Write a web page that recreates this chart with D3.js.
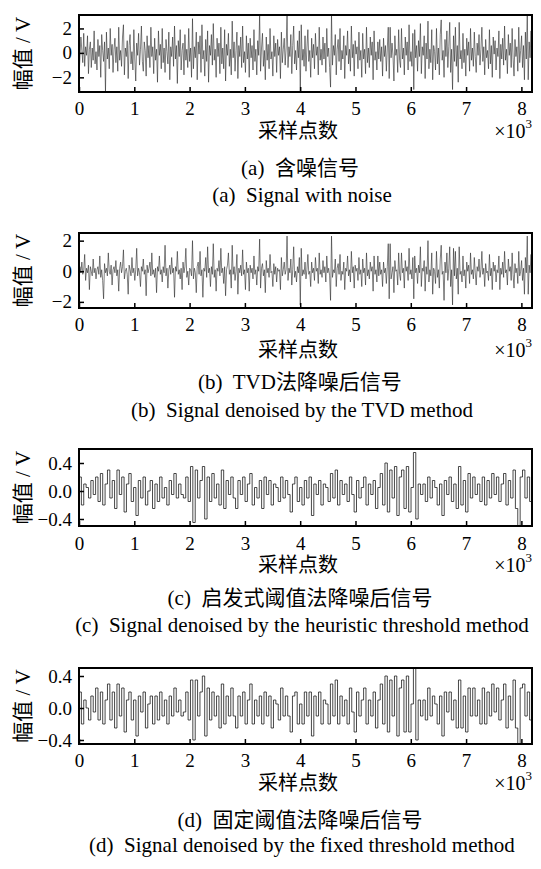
<!DOCTYPE html>
<html><head><meta charset="utf-8">
<script src="https://cdn.jsdelivr.net/npm/d3@7"></script>
<style>body{margin:0;background:#fff}</style></head>
<body><svg id="c" width="541" height="869"></svg>
<script>
const xTicks = [0,1000,2000,3000,4000,5000,6000,7000,8000];
const xMax = 8192;
const sigA = [
-1.9,-0.4,1.3,0.2,-0.8,1.6,-1.1,0.5,-0.2,1.4,-1.7,0.3,0.9,-1.2,0.4,-0.6,1.8,-0.9,0.1,-1.4,
1.1,-0.3,0.6,-2.0,1.5,0.2,-0.7,0.9,-3.2,1.7,-0.5,0.4,-1.3,2.0,-0.2,0.7,-1.6,0.3,1.2,-0.8,
0.5,-1.5,2.1,-0.6,0.2,-1.1,1.3,2.3,-1.8,0.4,-0.3,1.0,-2.1,0.6,1.5,-0.9,0.1,-1.4,1.9,-0.5,
-2.3,0.8,-0.2,1.6,-1.0,0.3,2.2,-0.7,-1.5,0.9,0.2,-1.9,1.4,-0.4,0.6,-1.2,2.1,-0.3,0.5,-1.7,
1.2,-0.6,0.3,-2.4,1.8,-0.2,0.7,-1.3,2.0,-0.8,0.4,-1.6,1.1,0.1,-0.9,1.7,-2.2,0.5,-0.3,1.3,
-1.1,2.2,-0.5,0.6,-2.5,1.0,-0.3,1.9,-1.4,0.2,0.8,-1.8,1.5,-0.6,0.3,-1.2,2.0,-0.7,0.4,-2.0,
2.8,-1.3,0.5,-0.4,1.7,-2.2,0.9,-0.1,1.4,-1.6,2.3,-0.5,0.2,-1.9,1.1,-0.7,1.8,-2.4,0.6,-0.2,
1.5,-1.0,2.4,-0.6,0.3,-2.0,1.2,-0.3,0.8,-1.7,2.1,-0.9,0.4,-1.3,1.9,-2.3,0.7,-0.2,1.6,-1.1,
0.3,-1.8,2.6,-0.4,0.9,-1.5,0.2,1.7,-2.1,0.6,-0.3,1.3,-1.2,2.2,-0.8,0.1,-1.6,1.4,-0.5,0.8,
-2.0,1.2,-0.4,0.6,-1.4,1.9,-0.7,0.3,-1.8,1.0,-0.2,3.1,-1.5,0.4,1.6,-1.1,0.2,-2.2,1.3,-0.6,
0.7,-1.3,2.0,-0.5,0.1,-1.9,1.4,-0.3,0.8,-1.6,1.1,-0.2,0.5,-2.1,1.7,-0.8,0.3,1.2,-1.0,0.4,
3.2,-1.2,0.5,-0.3,1.5,-1.7,0.6,2.2,-0.9,0.2,-1.4,1.0,-0.4,1.8,-3.3,2.3,-0.6,0.3,-1.1,1.4,
-1.5,0.4,1.9,-0.7,0.2,-2.0,1.2,-0.4,0.7,-1.3,1.6,-0.2,0.5,-1.8,2.1,-0.6,0.3,-1.0,1.3,-0.5,
0.8,-1.6,2.0,-0.3,0.4,-1.2,-2.8,3.2,-1.0,0.6,-0.2,1.5,-1.8,0.3,1.1,-0.7,2.0,-1.4,0.2,-0.5,
1.4,-2.1,0.6,-0.2,1.8,-0.9,0.3,-1.5,2.2,-0.4,0.7,-1.9,1.0,-0.1,0.5,-1.3,1.7,-0.6,0.2,-2.0,
1.6,-0.5,0.3,-1.7,2.1,-0.8,0.4,-1.2,1.3,-0.2,0.9,-2.2,1.8,-0.6,0.1,-1.4,0.9,-0.5,1.1,-0.7,
0.5,-1.9,1.2,-0.3,0.6,-1.5,0.4,2.1,-2.1,2.1,-0.4,0.8,-0.2,-2.3,1.4,-0.2,0.3,-1.6,1.9,-0.6,
-1.2,2.0,-0.5,0.4,-1.8,1.3,-0.2,0.9,-1.4,2.3,-0.7,0.1,-1.1,1.6,-3.0,1.9,-0.4,0.6,-1.5,1.0,
-0.3,2.4,-1.7,0.5,-0.2,1.4,-2.1,0.8,-0.5,2.6,-1.3,0.3,-0.8,1.9,-2.2,0.6,0.1,-1.4,2.0,-0.9,
0.4,-1.8,1.5,2.7,-0.6,0.2,-2.0,1.1,-0.3,1.8,-1.2,0.5,2.5,-1.6,0.3,-3.0,1.4,-0.7,2.1,-1.1,
0.6,-2.4,2.5,-0.5,0.2,-1.3,1.6,-0.8,0.3,-1.9,1.2,-0.2,0.9,-1.5,2.0,-0.6,0.4,-1.1,1.7,-0.3,
-1.6,0.8,-0.2,1.5,-1.0,0.3,2.1,-0.7,0.5,-1.8,1.1,-0.4,0.2,-1.3,1.9,-0.9,0.6,-2.0,1.3,-0.1,
1.0,-1.4,0.4,-0.3,1.8,-2.1,0.7,-0.5,1.2,-1.0,2.2,-0.6,0.3,-1.7,1.5,-0.2,0.8,-1.2,2.0,-0.4,
-1.9,1.1,-0.3,0.5,-1.5,2.1,-0.8,0.2,1.4,-1.2,0.6,-2.2,1.7,-0.5,3.2,-2.2,0.9,-0.4,1.8,-1.0
];
const sigB = [
-0.9,0.3,-0.1,0.6,-0.2,0.1,1.1,-0.6,0.2,-0.1,0.4,-1.2,0.3,0.0,-0.3,0.8,-0.1,0.2,-0.5,0.1,
0.3,-0.2,1.0,-0.4,0.1,-0.6,-1.8,0.5,-0.1,0.2,-0.3,1.2,0.0,-0.2,0.4,-0.9,0.1,0.3,-0.1,0.7,
-0.3,0.1,-1.3,0.2,0.6,-0.1,0.3,1.4,-0.5,0.0,0.2,-0.2,-1.5,0.4,0.1,-0.3,0.9,-0.1,0.2,-0.6,
0.1,1.5,-0.3,0.2,-0.1,-1.0,0.3,0.0,0.8,-0.2,0.1,-1.6,0.4,-0.1,0.2,0.6,-0.3,1.2,-0.2,0.1,
-0.4,0.2,-1.4,0.3,0.0,1.0,-0.2,0.1,-0.7,0.3,-0.1,1.7,-0.3,0.2,-1.1,0.1,0.4,-0.2,0.9,-0.1,
0.2,-1.7,0.3,0.0,1.3,-0.2,0.1,-0.5,0.2,-1.2,0.6,-0.1,0.3,1.5,-0.4,0.0,-0.9,0.2,0.1,-0.3,
2.0,-0.5,0.2,-0.1,-1.4,0.3,0.6,-0.2,1.3,-0.3,0.1,-1.7,0.2,0.0,0.9,-0.4,1.6,-0.1,0.2,-1.0,
0.3,-0.2,1.8,-0.4,0.1,-1.3,0.2,0.0,0.7,-0.3,1.5,-0.1,0.2,-0.8,0.3,-1.6,0.1,0.4,1.2,-0.2,
0.1,-1.1,1.7,-0.2,0.3,-0.6,0.0,1.1,-1.5,0.2,-0.1,0.4,-0.3,1.4,-0.2,0.1,-1.2,0.6,-0.1,0.2,
-1.3,0.4,-0.1,0.2,-0.5,1.0,-0.2,0.1,-0.9,0.3,0.0,2.1,-1.1,0.2,0.5,-0.3,0.1,-1.4,0.7,-0.1,
0.2,-0.4,1.1,-0.1,0.0,-1.0,0.5,-0.2,0.3,-0.7,0.2,0.0,0.1,-1.2,0.9,-0.3,0.1,0.6,-0.2,0.1,
2.3,-0.6,0.2,-0.1,0.8,-0.9,0.1,1.6,-0.4,0.0,-0.7,0.3,-0.1,0.9,-2.2,1.5,-0.3,0.1,-0.2,0.6,
-0.5,0.1,1.1,-0.2,0.0,-1.0,0.6,-0.1,0.2,-0.6,0.9,0.0,0.2,-0.8,1.2,-0.2,0.1,-0.4,0.7,-0.1,
0.3,-0.7,1.0,-0.1,0.2,-0.3,-1.9,2.3,-0.4,0.1,-0.1,0.8,-1.0,0.2,0.5,-0.2,1.1,-0.6,0.0,-0.2,
0.6,-1.2,0.2,0.0,1.0,-0.3,0.1,-0.7,1.3,-0.1,0.3,-1.1,0.4,0.0,0.2,-0.6,0.9,-0.2,0.1,-1.0,
0.8,-0.1,0.2,-0.9,1.2,-0.3,0.1,-0.5,0.6,0.0,0.3,-1.3,1.0,-0.2,0.1,-0.7,1.0,-0.3,0.6,-0.2,
0.1,-1.0,0.6,-0.1,0.2,-0.8,0.3,1.8,-1.8,1.8,-0.5,-0.1,0.3,-1.4,0.7,0.0,0.1,-0.9,1.2,-0.2,
-0.6,1.2,-0.1,0.2,-1.1,0.7,0.0,0.3,-0.6,1.5,-0.2,0.1,-0.5,0.9,-1.8,1.0,-0.1,0.2,-0.8,0.4,
-0.1,1.6,-1.0,0.2,0.0,0.7,-1.3,0.3,-0.2,2.0,-0.7,0.1,-0.3,1.2,-1.5,0.2,0.0,-0.8,1.3,-0.4,
0.1,-1.1,0.8,1.7,-0.2,0.0,-1.9,0.6,-0.1,1.2,-0.6,0.2,1.6,-1.0,0.1,-2.2,1.5,-0.3,1.3,-0.5,
0.2,-1.5,1.6,-0.2,0.0,-0.7,1.0,-0.3,0.1,-1.1,0.6,0.0,0.4,-0.8,1.2,-0.2,0.1,-0.5,0.9,-0.1,
-0.9,0.3,0.0,0.8,-0.4,0.1,1.3,-0.2,0.2,-1.0,0.5,-0.1,0.0,-0.6,1.1,-0.3,0.2,-1.2,0.6,0.0,
0.4,-0.7,0.1,-0.1,1.0,-1.2,0.2,-0.2,0.6,-0.4,1.3,-0.1,0.1,-0.9,0.8,0.0,0.3,-0.6,1.2,-0.2,
-1.1,0.5,-0.1,0.2,-0.8,1.3,-0.3,0.0,0.7,-0.6,0.2,-1.5,0.9,-0.1,2.3,-1.5,0.4,-0.1,1.1,-0.5
];
const sigC = [
0.20,-0.20,0.10,0.05,-0.10,0.15,-0.05,0.20,-0.15,0.25,-0.20,0.10,0.30,-0.10,0.15,-0.25,
0.30,-0.05,0.20,-0.30,0.10,0.25,-0.15,0.05,-0.35,0.15,-0.10,0.20,-0.20,0.00,0.15,-0.25,
0.10,-0.15,0.20,-0.10,0.05,-0.20,0.15,-0.05,0.25,-0.10,0.10,-0.05,-0.10,0.20,-0.15,0.35,
-0.45,0.30,-0.10,0.15,0.35,-0.40,0.20,-0.15,0.25,-0.10,0.10,-0.20,0.30,-0.25,0.15,-0.05,
0.20,-0.10,-0.25,0.15,-0.05,0.20,-0.15,0.10,0.25,-0.20,0.05,-0.10,0.15,-0.25,0.20,-0.05,
0.15,-0.20,0.10,0.05,-0.15,0.20,-0.10,0.15,-0.05,-0.30,0.10,0.20,-0.15,0.05,-0.20,0.15,
-0.10,0.20,-0.35,0.10,-0.05,0.15,-0.20,0.10,0.05,-0.15,0.25,-0.10,0.30,-0.20,0.15,-0.05,
0.10,-0.15,0.20,-0.05,-0.30,0.15,-0.10,0.05,0.20,-0.20,0.10,-0.05,0.15,-0.25,0.05,0.25,
-0.20,0.40,-0.30,0.30,-0.10,0.35,-0.35,0.20,0.30,-0.25,0.35,-0.30,0.05,0.55,-0.40,0.10,
-0.05,0.10,-0.15,0.20,-0.10,0.15,0.05,-0.20,0.10,-0.35,0.15,-0.05,0.20,-0.15,0.10,-0.25,
0.35,-0.20,0.15,-0.30,0.25,-0.10,0.20,-0.05,0.10,-0.15,0.20,-0.20,0.15,-0.10,0.25,-0.05,
0.20,-0.15,0.10,0.25,-0.20,0.15,-0.10,0.30,-0.25,-0.50,0.20,0.30,-0.10,0.20,-0.15,0.05
];
const sigD = [
0.20,-0.20,0.10,0.00,-0.15,0.15,-0.05,0.25,-0.15,0.20,-0.20,0.10,0.30,-0.15,0.20,-0.25,
0.30,-0.10,0.25,-0.30,0.10,0.20,-0.15,0.10,-0.35,0.15,-0.05,0.20,-0.25,0.05,0.15,-0.20,
0.15,-0.15,0.20,-0.10,0.10,-0.20,0.15,-0.10,0.25,-0.05,0.10,-0.10,-0.05,0.20,-0.15,0.35,
-0.40,0.35,-0.10,0.20,0.40,-0.35,0.25,-0.15,0.20,-0.10,0.15,-0.25,0.30,-0.20,0.15,-0.10,
0.25,-0.10,-0.25,0.15,-0.10,0.20,-0.20,0.10,0.30,-0.20,0.10,-0.10,0.15,-0.20,0.20,-0.10,
0.15,-0.25,0.10,0.05,-0.15,0.25,-0.10,0.15,-0.10,-0.30,0.15,0.20,-0.20,0.05,-0.20,0.20,
-0.10,0.20,-0.35,0.15,-0.10,0.20,-0.20,0.10,0.05,-0.20,0.30,-0.10,0.35,-0.20,0.15,-0.10,
0.10,-0.20,0.25,-0.05,-0.30,0.20,-0.10,0.10,0.25,-0.20,0.10,-0.10,0.20,-0.25,0.10,0.30,
-0.20,0.40,-0.30,0.35,-0.10,0.40,-0.35,0.25,0.35,-0.30,0.40,-0.30,0.05,0.50,-0.40,0.10,
-0.10,0.10,-0.15,0.25,-0.10,0.15,0.05,-0.20,0.15,-0.35,0.20,-0.05,0.20,-0.15,0.10,-0.25,
0.35,-0.25,0.15,-0.30,0.25,-0.10,0.25,-0.10,0.10,-0.20,0.25,-0.20,0.20,-0.10,0.30,-0.05,
0.25,-0.15,0.10,0.30,-0.25,0.15,-0.15,0.35,-0.25,-0.46,0.25,0.30,-0.10,0.20,-0.15,0.05
];
const yTicksA = [-2,0,2], yTicksB = [-2,0,2], yTicksC = [-0.4,0,0.4], yTicksD = [-0.4,0,0.4];
const xTitle = "采样点数", yTitle = "幅值 / V";
const captionsCN = ["(a)  含噪信号","(b)  TVD法降噪后信号","(c)  启发式阈值法降噪后信号","(d)  固定阈值法降噪后信号"];
const captionsEN = ["(a)  Signal with noise","(b)  Signal denoised by the TVD method","(c)  Signal denoised by the heuristic threshold method","(d)  Signal denoised by the fixed threshold method"];

const FONT = "'Liberation Serif','Times New Roman',serif";
const CJK = "'Liberation Serif','Noto Sans CJK SC',serif";
const svg = d3.select("#c");
const L = 79, R = 532;
const minus = s => String(s).replace("-", "\u2212");

const panels = [
 {data:sigA, top:15, bot:92, dom:[-3.2,3.1], ticks:yTicksA, fmt:d=>minus(d), step:false, cn:168, en:195, xl:108, xt:131},
 {data:sigB, top:233, bot:308, dom:[-2.4,2.5], ticks:yTicksB, fmt:d=>minus(d), step:false, cn:382, en:410, xl:324, xt:350},
 {data:sigC, top:449, bot:526, dom:[-0.5,0.6], ticks:yTicksC, fmt:d=>minus(d3.format(".1f")(d)), step:true, cn:598, en:625, xl:543, xt:565},
 {data:sigD, top:668, bot:744, dom:[-0.45,0.5], ticks:yTicksD, fmt:d=>minus(d3.format(".1f")(d)), step:true, cn:820, en:845, xl:760, xt:783}
];

panels.forEach((p, k) => {
  const x = d3.scaleLinear().domain([0, xMax]).range([L, R]);
  const y = d3.scaleLinear().domain(p.dom).range([p.bot, p.top]);
  const n = p.data.length;
  const pts = p.data.map((v, i) => [i * xMax / (n - 1), v]);
  const g = svg.append("g");
  g.append("defs").append("clipPath").attr("id", "cp" + k)
    .append("rect").attr("x", L).attr("y", p.top).attr("width", R - L).attr("height", p.bot - p.top);
  const line = d3.line().x(d => x(d[0])).y(d => y(d[1]))
    .curve(p.step ? d3.curveStepAfter : d3.curveLinear);
  g.append("path").attr("d", line(pts)).attr("fill", "none")
    .attr("stroke", p.step ? "#1a1a1a" : "#2a2a2a").attr("stroke-width", p.step ? 0.8 : 0.6)
    .attr("clip-path", `url(#cp${k})`);
  const xa = g.append("g").attr("transform", `translate(0,${p.bot})`)
    .call(d3.axisBottom(x).tickValues(xTicks).tickSize(-5).tickPadding(7).tickFormat(d => d / 1000));
  const ya = g.append("g").attr("transform", `translate(${L},0)`)
    .call(d3.axisLeft(y).tickValues(p.ticks).tickSize(-5).tickPadding(7).tickFormat(p.fmt));
  [xa, ya].forEach(a => {
    a.select(".domain").remove();
    a.selectAll("line").attr("stroke", "#000").attr("stroke-width", 1.5);
    a.selectAll("text").attr("font-family", FONT).attr("font-size", 19).attr("fill", "#000");
  });
  xa.selectAll("text").attr("dy", null).attr("y", p.xl - p.bot).attr("dominant-baseline", "central");
  g.append("rect").attr("x", L).attr("y", p.top).attr("width", R - L).attr("height", p.bot - p.top)
    .attr("fill", "none").attr("stroke", "#000").attr("stroke-width", 2);
  g.append("text").attr("x", 298).attr("y", p.xt).attr("text-anchor", "middle")
    .attr("dominant-baseline", "central").attr("font-family", CJK).attr("font-size", 20).text(xTitle);
  const sx = g.append("text").attr("x", 532).attr("y", p.xt).attr("text-anchor", "end")
    .attr("dominant-baseline", "central").attr("font-family", FONT).attr("font-size", 20);
  sx.append("tspan").text("\u00d710");
  sx.append("tspan").attr("font-size", 13).attr("dy", -8).text("3");
  g.append("text").attr("transform", `translate(23,${(p.top + p.bot) / 2}) rotate(-90)`)
    .attr("text-anchor", "middle").attr("dominant-baseline", "central")
    .attr("font-family", CJK).attr("font-size", 21).text(yTitle);
  g.append("text").attr("x", 300).attr("y", p.cn).attr("text-anchor", "middle").attr("dominant-baseline", "central")
    .attr("font-family", CJK).attr("font-size", 21).style("white-space", "pre").text(captionsCN[k]);
  g.append("text").attr("x", 302).attr("y", p.en).attr("text-anchor", "middle").attr("dominant-baseline", "central")
    .attr("font-family", FONT).attr("font-size", 21).style("white-space", "pre").text(captionsEN[k]);
});
</script></body></html>
